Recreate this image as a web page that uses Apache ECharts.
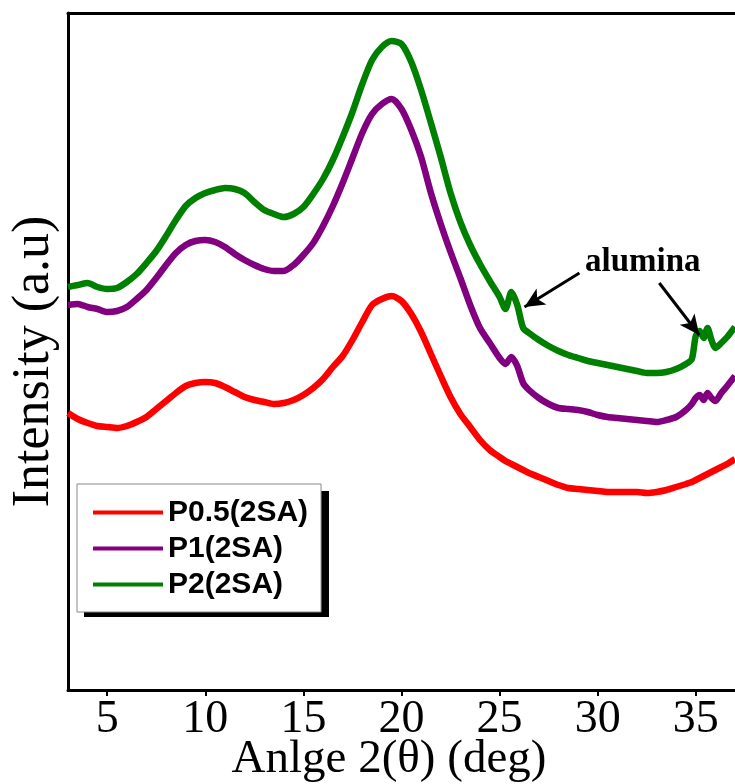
<!DOCTYPE html>
<html>
<head>
<meta charset="utf-8">
<script src="https://cdn.jsdelivr.net/npm/echarts@6/dist/echarts.min.js"></script>
<style>
html,body{margin:0;padding:0;background:#fff;}
#chart{width:735px;height:784px;}
</style>
</head>
<body>
<div id="chart"></div>
<script>
// 2θ angles (deg)
const angles = [3,3.5,4,4.5,5,5.5,6,6.5,7,7.5,8,8.5,9,9.5,10,10.5,11,11.5,12,12.5,13,13.5,14,14.5,15,15.5,16,16.5,17,17.5,18,18.5,19,19.5,20,20.5,21,21.5,22,22.5,23,23.5,24,24.5,25,25.3,25.6,25.9,26.2,26.5,27,27.5,28,28.5,29,29.5,30,30.5,31,31.5,32,32.5,33,33.5,34,34.5,34.8,35.0,35.2,35.4,35.6,35.8,36.0,36.3,36.6,37];
// Intensity (a.u.)
const p05 = [277,271,267,264,263,262,264,268,273,281,289,297,304,307,308,307,303,298,293,290,288,286,287,290,295,302,311,323,334,350,368,385,391,394,389,376,358,336,314,293,276,263,250,240,233,229,226,223,220,217,213,209,205,202,201,200,199,198,198,198,198,197,198,200,203,206,208,210,212,214,216,218,220,223,226,231];
const p1 = [385,386,383,381,378,379,383,391,400,412,425,437,445,449,450,448,443,436,430,425,421,419,419,425,435,447,464,484,507,532,557,576,586,591,581,560,533,497,466,438,412,385,362,347,332,326,333,324,307,300,292,286,282,281,280,278,275,273,272,271,270,269,268,270,273,280,286,292,295,290,297,292,289,297,304,314];
const p2 = [403,405,407,403,401,402,408,416,427,439,454,470,484,492,497,500,502,501,497,488,480,476,473,476,483,496,511,530,553,578,606,630,643,649,646,628,600,567,533,497,468,445,426,409,393,381,398,385,362,357,350,344,339,335,332,329,327,325,323,321,319,317,317,318,321,326,331,354,359,352,362,350,342,347,353,363];
const seriesNames = ['P0.5(2SA)','P1(2SA)','P2(2SA)'];
const seriesColors = ['#ff0000','#800080','#008000'];
const xTicks = [5,10,15,20,25,30,35];
// annotation arrows (start -> tip) in data units
const arrows = [[[29.07,417],[26.27,383]],[[33.14,407],[35.18,355]]];

const chart = echarts.init(document.getElementById('chart'), null, {renderer:'canvas'});
const allData = [p05,p1,p2];
const series = allData.map((vals,k)=>({
  name: seriesNames[k],
  type: 'line',
  data: angles.map((a,i)=>[a, vals[i]]),
  symbol: 'none',
  smooth: 0.25,
  lineStyle: {color: seriesColors[k], width: 6.5},
  itemStyle: {color: seriesColors[k]},
  z: 3,
  animation: false
}));
series[2].markLine = {
  silent: true,
  symbol: ['none','arrow'],
  symbolSize: [14, 20],
  label: {show:false},
  lineStyle: {color:'#000', width: 3, type:'solid'},
  itemStyle: {color:'#000'},
  data: arrows.map(a=>[{coord:a[0]},{coord:a[1]}]),
  animation: false
};

chart.setOption({
  backgroundColor: '#fff',
  animation: false,
  grid: {left: 68, right: 0, top: 13, bottom: 94, containLabel: false, outerBoundsMode: 'none'},
  xAxis: [{
    type: 'value', min: 3, max: 37,
    axisLine: {show:true, lineStyle:{color:'#000', width:3}},
    axisTick: {show:true, inside:false, length:6, customValues: xTicks, lineStyle:{color:'#000', width:2}},
    axisLabel: {customValues: xTicks, fontFamily:'Liberation Serif', fontSize:46, color:'#000', margin:7},
    splitLine: {show:false},
    name: 'Anlge 2(θ) (deg)',
    nameLocation: 'middle',
    nameGap: 46,
    nameMoveOverlap: false,
    nameTextStyle: {fontFamily:'Liberation Serif', fontSize:47, color:'#000', padding:[0,25,0,0]}
  },{
    type: 'value', min: 3, max: 37, position: 'top',
    axisLine: {show:true, lineStyle:{color:'#000', width:3}},
    axisTick: {show:false}, axisLabel: {show:false}, splitLine: {show:false}
  }],
  yAxis: {
    type: 'value', min: 0, max: 677,
    axisLine: {show:true, lineStyle:{color:'#000', width:3}},
    axisTick: {show:false}, axisLabel: {show:false}, splitLine: {show:false},
    name: 'Intensity (a.u)',
    nameLocation: 'middle',
    nameGap: 8,
    nameTextStyle: {fontFamily:'Liberation Serif', fontSize:52, color:'#000', padding:[0,20,0,0]}
  },
  legend: {
    orient: 'vertical',
    left: 77, top: 484,
    padding: [13,13,12,16],
    itemGap: 5,
    itemWidth: 70, itemHeight: 4,
    icon: 'rect',
    backgroundColor: '#fff',
    borderColor: '#888', borderWidth: 1,
    z: 20,
    textStyle: {fontFamily:'Liberation Sans', fontWeight:'bold', fontSize:30, color:'#000', lineHeight:31},
    data: seriesNames
  },
  graphic: [{
    type: 'rect', z: 15, silent: true,
    shape: {x: 84, y: 491, width: 245, height: 126},
    style: {fill: '#000'}
  },{
    type: 'text', left: 585, top: 246, z: 10,
    style: {text: 'alumina', font: 'bold 33px "Liberation Serif"', fill: '#000'}
  }],
  series: series
});
</script>
</body>
</html>
